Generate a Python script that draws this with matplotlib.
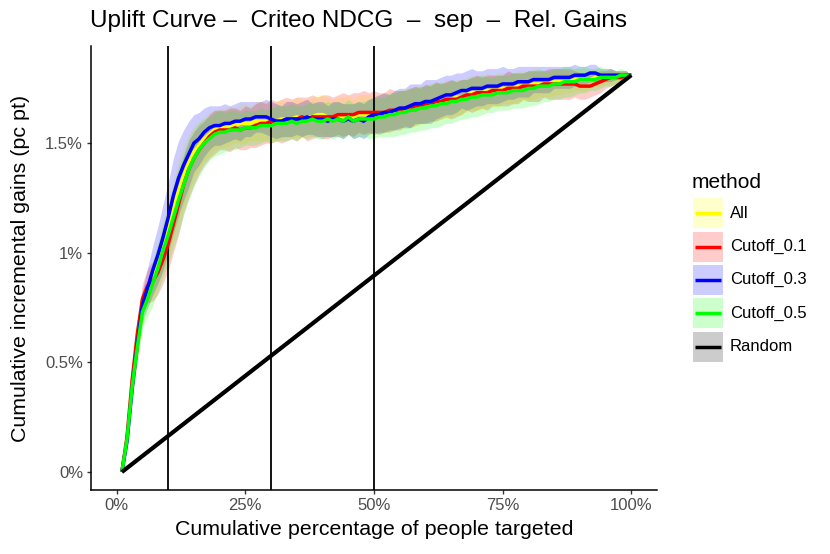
import numpy as np
import matplotlib
matplotlib.use("Agg")
import matplotlib.pyplot as plt
from matplotlib.patches import Rectangle

plt.rcParams['font.family'] = ['Liberation Sans', 'DejaVu Sans']

# ---------------- data ----------------
pct_targeted = list(range(1, 101))

gain_all = [
    0.00, 0.15, 0.38, 0.57, 0.74, 0.81, 0.88, 0.95, 1.03, 1.11,
    1.20, 1.28, 1.35, 1.41, 1.46, 1.49, 1.52, 1.54, 1.56, 1.57,
    1.57, 1.58, 1.58, 1.59, 1.59, 1.59, 1.60, 1.60, 1.60, 1.60,
    1.60, 1.61, 1.61, 1.61, 1.62, 1.61, 1.62, 1.62, 1.63, 1.63,
    1.62, 1.62, 1.62, 1.62, 1.63, 1.62, 1.63, 1.63, 1.63, 1.63,
    1.63, 1.64, 1.64, 1.65, 1.65, 1.66, 1.66, 1.67, 1.67, 1.68,
    1.68, 1.69, 1.69, 1.70, 1.70, 1.71, 1.71, 1.72, 1.73, 1.73,
    1.73, 1.74, 1.74, 1.74, 1.75, 1.75, 1.75, 1.76, 1.76, 1.76,
    1.77, 1.77, 1.77, 1.77, 1.78, 1.78, 1.78, 1.78, 1.79, 1.79,
    1.79, 1.79, 1.80, 1.80, 1.80, 1.80, 1.80, 1.81, 1.81, 1.81]

gain_cut01 = [
    0.00, 0.16, 0.42, 0.63, 0.79, 0.85, 0.87, 0.91, 0.97, 1.04,
    1.13, 1.22, 1.31, 1.38, 1.43, 1.47, 1.50, 1.53, 1.55, 1.56,
    1.56, 1.56, 1.57, 1.56, 1.57, 1.57, 1.58, 1.59, 1.59, 1.60,
    1.60, 1.60, 1.61, 1.61, 1.61, 1.62, 1.61, 1.62, 1.62, 1.62,
    1.62, 1.62, 1.63, 1.63, 1.63, 1.63, 1.64, 1.64, 1.64, 1.64,
    1.64, 1.64, 1.65, 1.65, 1.65, 1.66, 1.66, 1.67, 1.67, 1.68,
    1.68, 1.69, 1.69, 1.70, 1.70, 1.70, 1.71, 1.72, 1.72, 1.73,
    1.73, 1.73, 1.74, 1.74, 1.74, 1.75, 1.75, 1.75, 1.76, 1.76,
    1.76, 1.76, 1.77, 1.77, 1.77, 1.77, 1.77, 1.77, 1.77, 1.76,
    1.76, 1.76, 1.77, 1.78, 1.79, 1.80, 1.80, 1.80, 1.81, 1.81]

gain_cut03 = [
    0.00, 0.14, 0.38, 0.58, 0.76, 0.84, 0.92, 0.99, 1.07, 1.16,
    1.26, 1.34, 1.40, 1.45, 1.50, 1.52, 1.55, 1.57, 1.58, 1.58,
    1.59, 1.59, 1.60, 1.60, 1.61, 1.61, 1.62, 1.62, 1.62, 1.61,
    1.60, 1.60, 1.61, 1.61, 1.61, 1.61, 1.62, 1.61, 1.61, 1.61,
    1.60, 1.61, 1.61, 1.60, 1.61, 1.60, 1.61, 1.60, 1.62, 1.63,
    1.63, 1.64, 1.64, 1.65, 1.66, 1.66, 1.67, 1.68, 1.68, 1.69,
    1.69, 1.70, 1.71, 1.72, 1.72, 1.73, 1.74, 1.74, 1.75, 1.75,
    1.75, 1.76, 1.76, 1.76, 1.77, 1.77, 1.77, 1.78, 1.78, 1.78,
    1.79, 1.79, 1.79, 1.79, 1.80, 1.80, 1.80, 1.80, 1.81, 1.81,
    1.81, 1.82, 1.82, 1.81, 1.81, 1.81, 1.81, 1.81, 1.81, 1.81]

gain_cut05 = [
    0.00, 0.15, 0.39, 0.57, 0.73, 0.79, 0.86, 0.93, 1.01, 1.08,
    1.16, 1.24, 1.31, 1.38, 1.43, 1.47, 1.50, 1.52, 1.54, 1.55,
    1.55, 1.56, 1.56, 1.56, 1.57, 1.57, 1.57, 1.58, 1.58, 1.58,
    1.59, 1.59, 1.59, 1.60, 1.59, 1.60, 1.60, 1.61, 1.60, 1.60,
    1.61, 1.60, 1.61, 1.60, 1.62, 1.60, 1.61, 1.61, 1.61, 1.61,
    1.62, 1.62, 1.63, 1.63, 1.64, 1.64, 1.65, 1.65, 1.66, 1.66,
    1.67, 1.67, 1.68, 1.68, 1.69, 1.69, 1.70, 1.70, 1.71, 1.71,
    1.72, 1.72, 1.72, 1.73, 1.73, 1.73, 1.74, 1.74, 1.74, 1.75,
    1.75, 1.76, 1.76, 1.76, 1.77, 1.77, 1.78, 1.78, 1.78, 1.79,
    1.79, 1.79, 1.79, 1.80, 1.80, 1.80, 1.80, 1.81, 1.81, 1.81]

# half-widths of the confidence ribbons
band_all = [
    0.00, 0.02, 0.04, 0.05, 0.06, 0.07, 0.08, 0.10, 0.12, 0.13,
    0.14, 0.14, 0.14, 0.13, 0.12, 0.11, 0.10, 0.10, 0.09, 0.09,
    0.09, 0.09, 0.08, 0.09, 0.09, 0.08, 0.09, 0.09, 0.09, 0.08,
    0.09, 0.09, 0.08, 0.09, 0.09, 0.09, 0.08, 0.09, 0.09, 0.09,
    0.09, 0.08, 0.09, 0.09, 0.09, 0.08, 0.09, 0.09, 0.09, 0.09,
    0.09, 0.09, 0.09, 0.08, 0.09, 0.09, 0.09, 0.09, 0.09, 0.08,
    0.09, 0.09, 0.08, 0.09, 0.08, 0.08, 0.08, 0.08, 0.08, 0.08,
    0.08, 0.08, 0.07, 0.08, 0.07, 0.07, 0.07, 0.07, 0.07, 0.07,
    0.07, 0.06, 0.06, 0.06, 0.06, 0.06, 0.05, 0.05, 0.05, 0.05,
    0.05, 0.04, 0.04, 0.04, 0.03, 0.03, 0.03, 0.02, 0.02, 0.00]

band_cut01 = [
    0.00, 0.03, 0.05, 0.06, 0.07, 0.08, 0.09, 0.10, 0.11, 0.12,
    0.13, 0.14, 0.13, 0.13, 0.12, 0.11, 0.10, 0.10, 0.10, 0.09,
    0.09, 0.10, 0.09, 0.09, 0.10, 0.09, 0.10, 0.10, 0.09, 0.10,
    0.09, 0.10, 0.10, 0.09, 0.10, 0.09, 0.10, 0.10, 0.09, 0.10,
    0.10, 0.09, 0.09, 0.10, 0.09, 0.10, 0.09, 0.10, 0.09, 0.10,
    0.09, 0.09, 0.10, 0.09, 0.09, 0.08, 0.09, 0.09, 0.08, 0.09,
    0.08, 0.09, 0.08, 0.08, 0.09, 0.08, 0.08, 0.07, 0.08, 0.08,
    0.07, 0.08, 0.07, 0.07, 0.07, 0.08, 0.07, 0.07, 0.06, 0.07,
    0.07, 0.07, 0.06, 0.07, 0.07, 0.07, 0.07, 0.07, 0.06, 0.06,
    0.06, 0.05, 0.05, 0.05, 0.04, 0.04, 0.03, 0.03, 0.02, 0.00]

band_cut03 = [
    0.00, 0.02, 0.04, 0.06, 0.07, 0.09, 0.11, 0.13, 0.15, 0.16,
    0.17, 0.17, 0.16, 0.15, 0.13, 0.12, 0.11, 0.10, 0.09, 0.09,
    0.09, 0.08, 0.08, 0.09, 0.08, 0.08, 0.07, 0.07, 0.08, 0.08,
    0.08, 0.07, 0.08, 0.08, 0.07, 0.08, 0.08, 0.07, 0.08, 0.08,
    0.07, 0.08, 0.08, 0.08, 0.07, 0.08, 0.08, 0.08, 0.08, 0.08,
    0.09, 0.09, 0.08, 0.09, 0.09, 0.09, 0.10, 0.09, 0.09, 0.10,
    0.10, 0.09, 0.09, 0.09, 0.09, 0.09, 0.08, 0.09, 0.09, 0.08,
    0.08, 0.08, 0.08, 0.08, 0.08, 0.07, 0.07, 0.07, 0.07, 0.07,
    0.06, 0.06, 0.06, 0.06, 0.05, 0.05, 0.05, 0.05, 0.05, 0.04,
    0.04, 0.04, 0.04, 0.03, 0.03, 0.03, 0.02, 0.02, 0.02, 0.00]

band_cut05 = [
    0.00, 0.02, 0.04, 0.06, 0.07, 0.08, 0.10, 0.11, 0.12, 0.13,
    0.14, 0.15, 0.14, 0.14, 0.13, 0.12, 0.11, 0.10, 0.10, 0.10,
    0.09, 0.09, 0.09, 0.08, 0.08, 0.08, 0.08, 0.08, 0.07, 0.08,
    0.08, 0.08, 0.08, 0.08, 0.08, 0.07, 0.08, 0.08, 0.08, 0.08,
    0.08, 0.08, 0.08, 0.08, 0.08, 0.08, 0.08, 0.08, 0.09, 0.09,
    0.09, 0.09, 0.10, 0.10, 0.10, 0.10, 0.10, 0.10, 0.10, 0.10,
    0.10, 0.10, 0.10, 0.09, 0.10, 0.09, 0.09, 0.09, 0.09, 0.09,
    0.09, 0.08, 0.08, 0.08, 0.08, 0.08, 0.08, 0.08, 0.08, 0.08,
    0.08, 0.08, 0.07, 0.07, 0.07, 0.07, 0.07, 0.07, 0.06, 0.06,
    0.06, 0.05, 0.05, 0.05, 0.04, 0.04, 0.03, 0.03, 0.02, 0.00]

random_x = [1, 100]
random_y = [0.00, 1.81]

cutoff_lines = [10, 30, 50]

methods = ["All", "Cutoff_0.1", "Cutoff_0.3", "Cutoff_0.5", "Random"]
colors = ["#FFFF00", "#FF0000", "#0000FF", "#00FF00", "#000000"]

x_ticks = [0, 25, 50, 75, 100]
x_ticklabels = ["0%", "25%", "50%", "75%", "100%"]
y_ticks = [0.0, 0.5, 1.0, 1.5]
y_ticklabels = ["0%", "0.5%", "1%", "1.5%"]

title = "Uplift Curve \u2013  Criteo NDCG  \u2013  sep  \u2013  Rel. Gains"
xlabel = "Cumulative percentage of people targeted"
ylabel = "Cumulative incremental gains (pc pt)"

# ---------------- plot ----------------
W, H = 830, 554
fig = plt.figure(figsize=(W / 100, H / 100), dpi=100)
ax = fig.add_axes([91 / W, 1 - 490 / H, (657 - 91) / W, (490 - 46) / H])

x = np.array(pct_targeted)
series = [gain_all, gain_cut01, gain_cut03, gain_cut05]
bands = [band_all, band_cut01, band_cut03, band_cut05]

for y, b, c in zip(series, bands, colors[:4]):
    y = np.array(y); b = np.array(b)
    ax.fill_between(x, y - b, y + b, color=c, alpha=0.2, linewidth=0, zorder=1)

for y, c in zip(series, colors[:4]):
    ax.plot(x, y, color=c, lw=2.5, solid_capstyle='butt', solid_joinstyle='round', zorder=3)

ax.plot(random_x, random_y, color=colors[4], lw=3.0, solid_capstyle='butt', zorder=4)

for v in cutoff_lines:
    ax.axvline(v, color="black", lw=1.3, zorder=2)

ax.set_xlim(-5, 105)
ax.set_ylim(-0.082, 1.943)
ax.set_xticks(x_ticks)
ax.set_xticklabels(x_ticklabels)
ax.set_yticks(y_ticks)
ax.set_yticklabels(y_ticklabels)

for s in ["top", "right"]:
    ax.spines[s].set_visible(False)
for s in ["left", "bottom"]:
    ax.spines[s].set_linewidth(1.1)
    ax.spines[s].set_color("black")

ax.tick_params(axis='both', length=3.2, width=1.0, color="#333333",
               labelsize=12, labelcolor="#4D4D4D", pad=2.5)

ax.set_xlabel(xlabel, fontsize=15.4, color="black", labelpad=5)
ax.set_ylabel(ylabel, fontsize=15.4, color="black", labelpad=11)

fig.text(90 / W, 1 - 21 / H, title, ha='left', va='center', fontsize=17.5, color="black")

# ---------------- legend ----------------
lax = fig.add_axes([0, 0, 1, 1])
lax.set_xlim(0, W)
lax.set_ylim(H, 0)
lax.axis("off")
lax.patch.set_alpha(0)

lax.text(692, 183, "method", ha='left', va='center', fontsize=15, color="black")
key_top = 198.3
key_step = 33.3
for i, (m, c) in enumerate(zip(methods, colors)):
    top = key_top + i * key_step
    lax.add_patch(Rectangle((693, top), 30, 30, facecolor=c, alpha=0.2, linewidth=0))
    cy = top + 15
    lax.plot([695, 721], [cy, cy], color=c, lw=2.5, solid_capstyle='butt')
    lax.text(730, cy, m, ha='left', va='center', fontsize=12, color="black")

fig.savefig("out.png", dpi=100)
